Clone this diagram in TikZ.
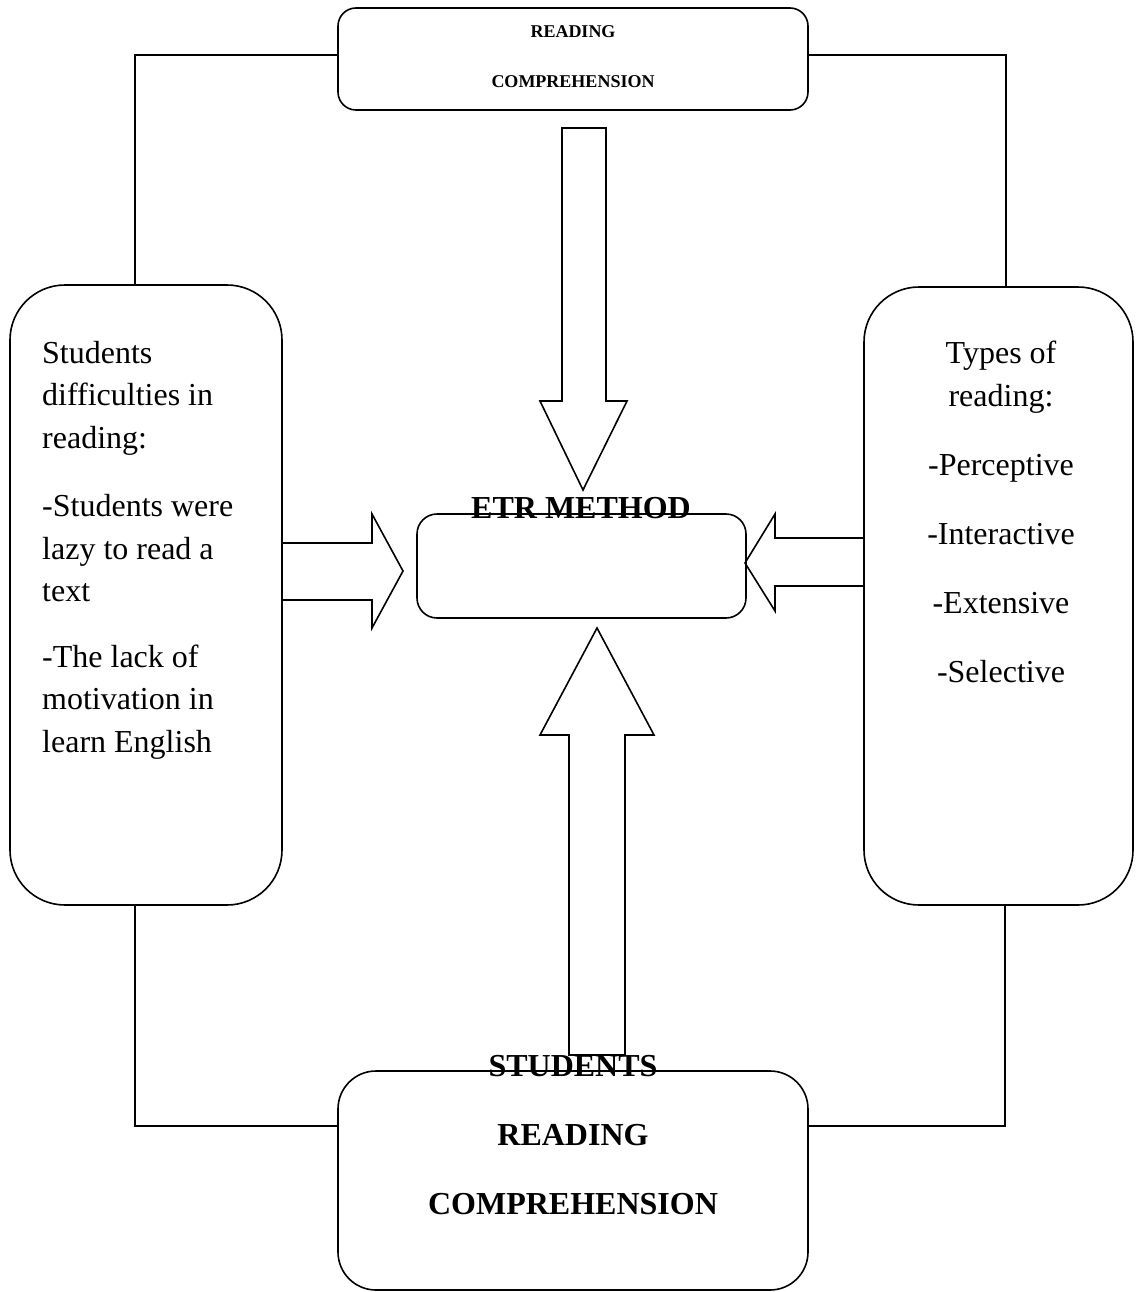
\documentclass[tikz,border=0pt]{standalone}
\usepackage{fontspec}
\setmainfont{Liberation Serif}
\begin{document}
\begin{tikzpicture}[x=1pt,y=-1pt,
  box/.style={draw, line width=1.6pt, inner sep=0pt},
  conn/.style={draw, line width=1.6pt},
  blockarrow/.style={draw, line width=1.6pt, line join=miter},
  bigtxt/.style={inner sep=0pt, font=\fontsize{32}{42.5}\selectfont},
]
\useasboundingbox (0,0) rectangle (1138,1292);

% boxes
\node[box, rounded corners=18pt, minimum width=470pt, minimum height=102pt] (top) at (573,59) {};
\node[box, rounded corners=55pt, minimum width=272pt, minimum height=620pt] (left) at (146,595) {};
\node[box, rounded corners=55pt, minimum width=269pt, minimum height=618pt] (right) at (998.5,596) {};
\node[box, rounded corners=20pt, minimum width=329pt, minimum height=104pt] (etr) at (581.5,566) {};
\node[box, rounded corners=38pt, minimum width=470pt, minimum height=219pt] (bottom) at (573,1180.5) {};

% connectors
\coordinate (c1) at (135,55);
\coordinate (c2) at (1006,55);
\coordinate (c3) at (135,1126);
\coordinate (c4) at (1005,1126);
\draw[conn] (top.west |- c1) -- (c1) -- (c1 |- left.north);
\draw[conn] (top.east |- c2) -- (c2) -- (c2 |- right.north);
\draw[conn] (left.south -| c3) -- (c3) -- (c3 -| bottom.west);
\draw[conn] (right.south -| c4) -- (c4) -- (c4 -| bottom.east);

% block arrows
\draw[blockarrow] (282,543) -- (372,543) -- (372,514) -- (403,571) -- (372,628) -- (372,600) -- (282,600);
\draw[blockarrow] (864,538) -- (775,538) -- (775,514) -- (745,563) -- (775,611) -- (775,586) -- (864,586);
\draw[blockarrow] (562,128) -- (606,128) -- (606,401) -- (627,401) -- (583,490) -- (540,401) -- (562,401) -- cycle;
\draw[blockarrow] (569,1055) -- (569,735) -- (540,735) -- (597,628) -- (654,735) -- (625,735) -- (625,1055) -- cycle;

% texts
\node[inner sep=0pt, anchor=north, align=center, font=\fontsize{18}{50}\selectfont\bfseries] (toptxt) at (573,25) {READING\\COMPREHENSION};
\node[bigtxt, anchor=north west, align=left] (lefttxt) at (42,341)
  {Students\\difficulties in\\reading:\\[26pt]-Students were\\lazy to read a\\text\\[23pt]-The lack of\\motivation in\\learn English};
\node[bigtxt, anchor=north, align=center] (righttxt) at (1001,341)
  {Types of\\reading:\\[26.5pt]-Perceptive\\[26.5pt]-Interactive\\[26.5pt]-Extensive\\[26.5pt]-Selective};
\node[inner sep=0pt, anchor=base, font=\fontsize{32}{40}\selectfont\bfseries] (etrtxt) at (581,518) {ETR METHOD};
\node[inner sep=0pt, anchor=north, align=center, font=\fontsize{32}{69}\selectfont\bfseries] (bottxt) at (573,1055) {STUDENTS\\READING\\COMPREHENSION};
\end{tikzpicture}
\end{document}
